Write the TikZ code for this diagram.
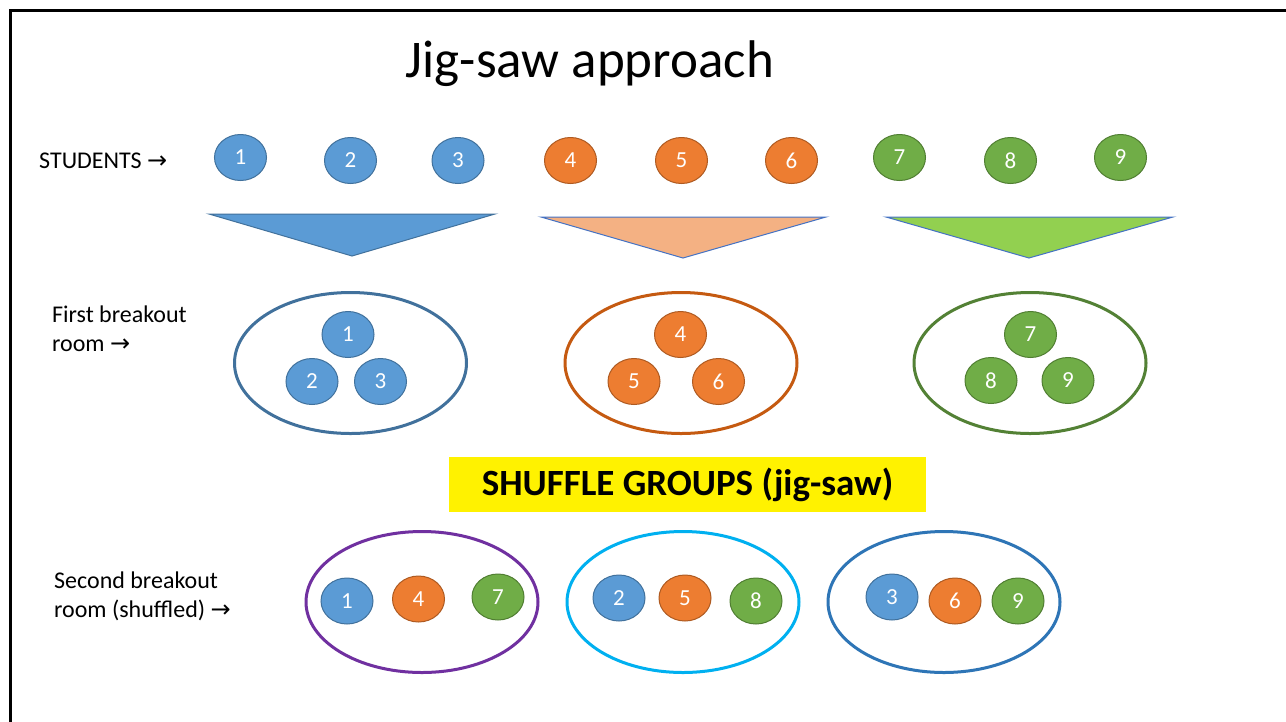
\documentclass[tikz,border=0pt]{standalone}
\usepackage{fontspec}
\setmainfont{Carlito}
\newfontfamily\arrowfont{DejaVu Sans}
\usetikzlibrary{shapes.geometric}
\definecolor{bfill}{HTML}{5B9BD5}
\definecolor{bline}{HTML}{41719C}
\definecolor{ofill}{HTML}{ED7D31}
\definecolor{oline}{HTML}{AE5A21}
\definecolor{gfill}{HTML}{70AD47}
\definecolor{gline}{HTML}{507E32}
\definecolor{otri}{HTML}{F4B183}
\definecolor{gtri}{HTML}{92D050}
\definecolor{triline}{HTML}{4472C4}
\definecolor{roomb}{HTML}{41719C}
\definecolor{roomo}{HTML}{C55A11}
\definecolor{roomg}{HTML}{538135}
\definecolor{roomp}{HTML}{7030A0}
\definecolor{roomc}{HTML}{00B0F0}
\definecolor{roomd}{HTML}{2E75B6}
\begin{document}
\begin{tikzpicture}[x=1pt,y=-1pt,
  stud/.style={ellipse, minimum width=52pt, minimum height=46pt, inner sep=0pt,
    text=white, font=\fontsize{23}{27}\selectfont, line width=1pt},
  bst/.style={stud, fill=bfill, draw=bline},
  ost/.style={stud, fill=ofill, draw=oline},
  gst/.style={stud, fill=gfill, draw=gline},
  room/.style={ellipse, line width=3pt, minimum width=232pt, minimum height=141pt, inner sep=0pt},
  tri/.style={draw=triline, line width=1pt, line join=miter},
  lab/.style={inner sep=0pt, anchor=base west, font=\fontsize{24}{28}\selectfont}
]
\useasboundingbox (0,0) rectangle (1286,721);
\fill[white] (0,0) rectangle (1286,721);
\draw[line width=3pt] (10.5,725) -- (10.5,10.5) -- (1290,10.5);

% title
\node[inner sep=0pt, anchor=base, font=\fontsize{53}{60}\selectfont] (title) at (590,77) {Jig-saw approach};

% labels
\node[lab] (lstud) at (39,168.5) {STUDENTS {\arrowfont →}};
\node[lab] (lfirst1) at (52,322) {First breakout};
\node[lab] (lfirst2) at (52,351) {room {\arrowfont →}};
\node[lab] (lsec1) at (54,588) {Second breakout};
\node[lab] (lsec2) at (54,617) {room (shuffled) {\arrowfont →}};

% top row students
\node[bst] (t1) at (240.5,157.5) {1};
\node[bst] (t2) at (350.5,160.5) {2};
\node[bst] (t3) at (458,160.5) {3};
\node[ost] (t4) at (570.5,160.5) {4};
\node[ost] (t5) at (681.5,160.5) {5};
\node[ost] (t6) at (791.5,160.5) {6};
\node[gst] (t7) at (899.5,157.5) {7};
\node[gst] (t8) at (1010.5,160.5) {8};
\node[gst] (t9) at (1120.5,157.5) {9};

% triangles
\draw[tri, draw=bline, fill=bfill] (209,214) -- (495,214) -- (352,256) -- cycle;
\draw[tri, fill=otri] (541,217) -- (826,217) -- (683,258) -- cycle;
\draw[tri, fill=gtri] (886,217) -- (1173,217) -- (1029,258) -- cycle;

% first breakout rooms
\node[room, draw=roomb] (r1) at (350.5,363) {};
\node[room, draw=roomo] (r2) at (681,363) {};
\node[room, draw=roomg] (r3) at (1030,363) {};
\node[bst] (a1) at (348,334.5) {1};
\node[bst] (a2) at (312,381.5) {2};
\node[bst] (a3) at (380.5,381.5) {3};
\node[ost] (a4) at (680.5,334.5) {4};
\node[ost] (a5) at (634,381.5) {5};
\node[ost] (a6) at (718.5,381.5) {6};
\node[gst] (a7) at (1030.5,334.5) {7};
\node[gst] (a8) at (991,380.5) {8};
\node[gst] (a9) at (1068,380.5) {9};

% shuffle banner
\node[fill=yellow, minimum width=477pt, minimum height=55pt, inner sep=0pt,
  font=\fontsize{37}{42}\selectfont\bfseries] (shuf) at (687.5,484.5) {SHUFFLE GROUPS (jig-saw)};

% second breakout rooms
\node[room, draw=roomp] (q1) at (422,602) {};
\node[room, draw=roomc] (q2) at (683,602) {};
\node[room, draw=roomd] (q3) at (944,602) {};
\node[bst] (b1) at (347,601) {1};
\node[ost] (b4) at (418.5,599) {4};
\node[gst] (b7) at (498,597) {7};
\node[bst] (b2) at (619,598) {2};
\node[ost] (b5) at (685,598) {5};
\node[gst] (b8) at (756,601) {8};
\node[bst] (b3) at (892,597) {3};
\node[ost] (b6) at (955,601) {6};
\node[gst] (b9) at (1018,601) {9};
\end{tikzpicture}
\end{document}
